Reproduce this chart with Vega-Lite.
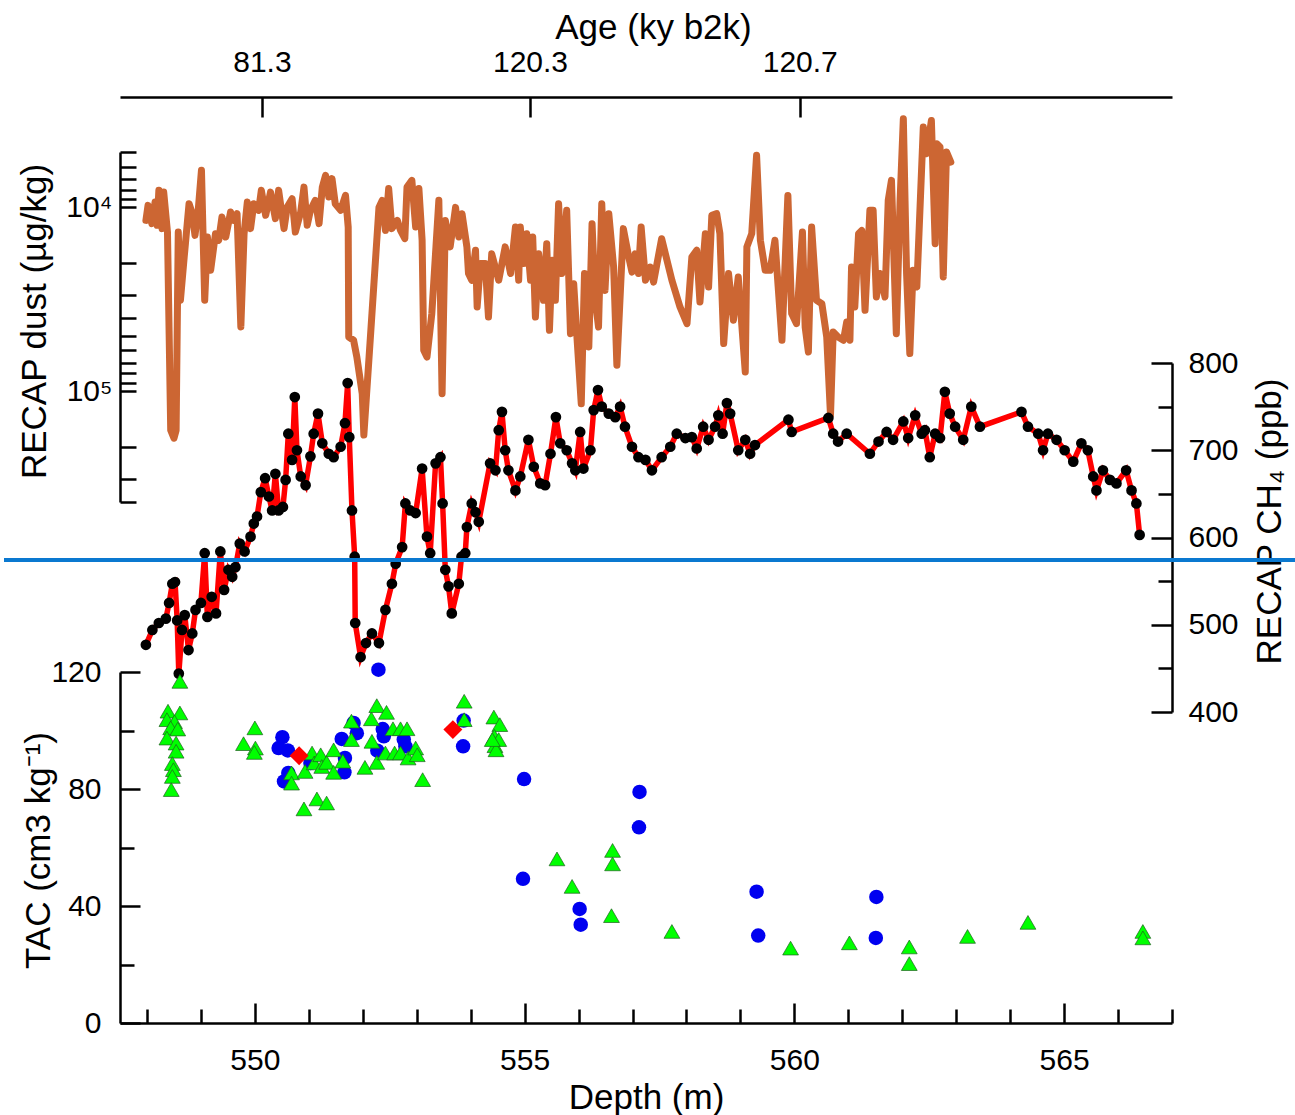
{
  "$schema": "https://vega.github.io/schema/vega-lite/v6.json",
  "width": 1052,
  "height": 926,
  "autosize": {"type": "none"},
  "padding": {"left": 120, "top": 97, "right": 123, "bottom": 92},
  "background": "white",
  "config": {
    "view": {"stroke": null},
    "axis": {
      "grid": false,
      "domainColor": "#000000",
      "domainWidth": 2.5,
      "tickColor": "#000000",
      "tickWidth": 2.5,
      "labelFont": "Liberation Sans",
      "labelFontSize": 30,
      "labelColor": "#000000",
      "titleFont": "Liberation Sans",
      "titleFontSize": 35,
      "titleFontWeight": "normal",
      "titleColor": "#000000",
      "labelFlush": false,
      "labelOverlap": false
    }
  },
  "datasets": {
    "dust": [
      {"d":547.98,"dust":11770},{"d":548.02,"dust":9750},{"d":548.09,"dust":12260},{"d":548.15,"dust":9360},{"d":548.19,"dust":12520},
      {"d":548.22,"dust":8080},{"d":548.28,"dust":13050},{"d":548.31,"dust":8260},{"d":548.38,"dust":13620},{"d":548.44,"dust":163000},
      {"d":548.50,"dust":180000},{"d":548.54,"dust":163000},{"d":548.58,"dust":13620},{"d":548.62,"dust":32000},{"d":548.69,"dust":18620},
      {"d":548.78,"dust":9550},{"d":548.84,"dust":10820},{"d":548.89,"dust":14200},{"d":548.95,"dust":10380},{"d":549.01,"dust":6290},
      {"d":549.07,"dust":32000},{"d":549.12,"dust":14490},{"d":549.18,"dust":22000},{"d":549.27,"dust":13900},{"d":549.33,"dust":15100},
      {"d":549.39,"dust":11290},{"d":549.46,"dust":14490},{"d":549.55,"dust":10600},{"d":549.61,"dust":11770},{"d":549.67,"dust":10820},
      {"d":549.74,"dust":44700},{"d":549.80,"dust":13900},{"d":549.86,"dust":9360},{"d":549.92,"dust":13050},{"d":549.98,"dust":9550},
      {"d":550.07,"dust":10380},{"d":550.12,"dust":8080},{"d":550.20,"dust":11050},{"d":550.29,"dust":8260},{"d":550.38,"dust":11520},
      {"d":550.44,"dust":8080},{"d":550.54,"dust":13050},{"d":550.60,"dust":9960},{"d":550.69,"dust":8970},{"d":550.75,"dust":13620},
      {"d":550.85,"dust":10600},{"d":550.91,"dust":7760},{"d":550.97,"dust":12520},{"d":551.03,"dust":10380},{"d":551.12,"dust":9160},
      {"d":551.19,"dust":12260},{"d":551.25,"dust":7760},{"d":551.31,"dust":6700},{"d":551.37,"dust":8790},{"d":551.43,"dust":6980},
      {"d":551.49,"dust":9550},{"d":551.59,"dust":10380},{"d":551.68,"dust":8610},{"d":551.73,"dust":12800},{"d":551.74,"dust":50700},
      {"d":551.83,"dust":52800},{"d":551.89,"dust":65100},{"d":551.99,"dust":103000},{"d":552.02,"dust":173000},{"d":552.15,"dust":46600},
      {"d":552.30,"dust":10000},{"d":552.36,"dust":9160},{"d":552.42,"dust":13340},{"d":552.48,"dust":7900},{"d":552.54,"dust":13050},
      {"d":552.64,"dust":11770},{"d":552.70,"dust":13340},{"d":552.78,"dust":14800},{"d":552.82,"dust":7760},{"d":552.91,"dust":7130},
      {"d":552.98,"dust":12800},{"d":553.04,"dust":7900},{"d":553.10,"dust":15100},{"d":553.13,"dust":59800},{"d":553.19,"dust":65100},
      {"d":553.28,"dust":37800},{"d":553.41,"dust":9160},{"d":553.47,"dust":103000},{"d":553.53,"dust":11770},{"d":553.62,"dust":16400},
      {"d":553.72,"dust":10000},{"d":553.78,"dust":14490},{"d":553.84,"dust":10820},{"d":553.93,"dust":16400},{"d":553.96,"dust":22900},
      {"d":554.02,"dust":24900},{"d":554.09,"dust":17100},{"d":554.12,"dust":34800},{"d":554.18,"dust":20200},{"d":554.27,"dust":20200},
      {"d":554.33,"dust":39500},{"d":554.39,"dust":17900},{"d":554.52,"dust":24900},{"d":554.64,"dust":16400},{"d":554.74,"dust":22900},
      {"d":554.83,"dust":12800},{"d":554.89,"dust":24900},{"d":554.92,"dust":12800},{"d":554.98,"dust":20200},{"d":555.04,"dust":13900},
      {"d":555.11,"dust":24900},{"d":555.15,"dust":14490},{"d":555.20,"dust":39500},{"d":555.26,"dust":17900},{"d":555.35,"dust":32000},
      {"d":555.41,"dust":15750},{"d":555.46,"dust":46600},{"d":555.51,"dust":19400},{"d":555.57,"dust":32000},{"d":555.63,"dust":9550},
      {"d":555.69,"dust":22900},{"d":555.78,"dust":10380},{"d":555.85,"dust":48600},{"d":555.91,"dust":26000},{"d":555.97,"dust":50700},
      {"d":556.05,"dust":117000},{"d":556.11,"dust":22900},{"d":556.19,"dust":57400},{"d":556.25,"dust":12260},{"d":556.31,"dust":32000},
      {"d":556.37,"dust":44700},{"d":556.43,"dust":9550},{"d":556.49,"dust":28300},{"d":556.56,"dust":10820},{"d":556.65,"dust":21100},
      {"d":556.71,"dust":72200},{"d":556.83,"dust":13050},{"d":556.93,"dust":18620},{"d":556.99,"dust":22500},{"d":557.05,"dust":17900},
      {"d":557.11,"dust":22900},{"d":557.16,"dust":12800},{"d":557.24,"dust":24900},{"d":557.33,"dust":21100},{"d":557.39,"dust":25500},
      {"d":557.54,"dust":14800},{"d":557.73,"dust":24900},{"d":557.88,"dust":34800},{"d":558.01,"dust":42900},{"d":558.10,"dust":18620},
      {"d":558.19,"dust":17100},{"d":558.25,"dust":32700},{"d":558.35,"dust":13900},{"d":558.41,"dust":27100},{"d":558.47,"dust":11050},
      {"d":558.56,"dust":10820},{"d":558.62,"dust":13900},{"d":558.69,"dust":55000},{"d":558.78,"dust":22900},{"d":558.87,"dust":41100},
      {"d":558.96,"dust":23900},{"d":559.09,"dust":78500},{"d":559.12,"dust":16400},{"d":559.21,"dust":13900},{"d":559.30,"dust":5210},
      {"d":559.37,"dust":15100},{"d":559.46,"dust":22000},{"d":559.55,"dust":22000},{"d":559.64,"dust":15100},{"d":559.70,"dust":27100},
      {"d":559.77,"dust":52800},{"d":559.88,"dust":8610},{"d":559.95,"dust":37800},{"d":560.04,"dust":42900},{"d":560.15,"dust":13620},
      {"d":560.20,"dust":44700},{"d":560.26,"dust":61100},{"d":560.32,"dust":12800},{"d":560.41,"dust":32000},{"d":560.51,"dust":33400},
      {"d":560.60,"dust":50700},{"d":560.67,"dust":135000},{"d":560.72,"dust":47600},{"d":560.81,"dust":50700},{"d":560.91,"dust":52800},
      {"d":560.97,"dust":42000},{"d":561.03,"dust":52800},{"d":561.06,"dust":21100},{"d":561.12,"dust":34800},{"d":561.19,"dust":13900},
      {"d":561.25,"dust":13340},{"d":561.31,"dust":36300},{"d":561.40,"dust":10380},{"d":561.46,"dust":10380},{"d":561.52,"dust":30700},
      {"d":561.59,"dust":22900},{"d":561.68,"dust":30700},{"d":561.74,"dust":9160},{"d":561.80,"dust":7130},{"d":561.89,"dust":48600},
      {"d":561.96,"dust":9160},{"d":562.02,"dust":3300},{"d":562.08,"dust":22900},{"d":562.14,"dust":62400},{"d":562.20,"dust":22000},
      {"d":562.27,"dust":27100},{"d":562.39,"dust":3660},{"d":562.45,"dust":5110},{"d":562.54,"dust":3370},{"d":562.61,"dust":15750},
      {"d":562.64,"dust":4510},{"d":562.70,"dust":4700},{"d":562.76,"dust":23900},{"d":562.82,"dust":5000},{"d":562.90,"dust":5670}
    ],
    "ch4": [
      {"d":547.98,"ch4":477},{"d":548.10,"ch4":494},{"d":548.22,"ch4":502},{"d":548.35,"ch4":507},{"d":548.41,"ch4":525},
      {"d":548.47,"ch4":547},{"d":548.52,"ch4":549},{"d":548.56,"ch4":505},{"d":548.59,"ch4":444},{"d":548.65,"ch4":494},
      {"d":548.70,"ch4":511},{"d":548.77,"ch4":471},{"d":548.84,"ch4":490},{"d":548.90,"ch4":517},{"d":549.00,"ch4":525},
      {"d":549.07,"ch4":582},{"d":549.12,"ch4":509},{"d":549.20,"ch4":532},{"d":549.28,"ch4":513},{"d":549.36,"ch4":584},
      {"d":549.43,"ch4":540},{"d":549.51,"ch4":563},{"d":549.58,"ch4":555},{"d":549.64,"ch4":566},{"d":549.72,"ch4":593},
      {"d":549.81,"ch4":584},{"d":549.92,"ch4":601},{"d":549.98,"ch4":616},{"d":550.04,"ch4":624},{"d":550.11,"ch4":652},
      {"d":550.19,"ch4":668},{"d":550.26,"ch4":647},{"d":550.32,"ch4":631},{"d":550.38,"ch4":673},{"d":550.44,"ch4":631},
      {"d":550.52,"ch4":635},{"d":550.57,"ch4":666},{"d":550.62,"ch4":719},{"d":550.69,"ch4":689},{"d":550.74,"ch4":761},
      {"d":550.78,"ch4":700},{"d":550.85,"ch4":670},{"d":550.94,"ch4":660},{"d":551.03,"ch4":693},{"d":551.09,"ch4":719},
      {"d":551.17,"ch4":742},{"d":551.25,"ch4":708},{"d":551.37,"ch4":696},{"d":551.46,"ch4":692},{"d":551.59,"ch4":704},
      {"d":551.67,"ch4":731},{"d":551.72,"ch4":777},{"d":551.75,"ch4":715},{"d":551.80,"ch4":631},{"d":551.85,"ch4":578},
      {"d":551.86,"ch4":502},{"d":551.96,"ch4":463},{"d":552.06,"ch4":479},{"d":552.17,"ch4":490},{"d":552.30,"ch4":479},
      {"d":552.42,"ch4":517},{"d":552.54,"ch4":547},{"d":552.61,"ch4":570},{"d":552.73,"ch4":589},{"d":552.79,"ch4":639},
      {"d":552.88,"ch4":631},{"d":552.98,"ch4":628},{"d":553.10,"ch4":679},{"d":553.19,"ch4":601},{"d":553.25,"ch4":582},
      {"d":553.35,"ch4":685},{"d":553.44,"ch4":692},{"d":553.48,"ch4":639},{"d":553.53,"ch4":563},{"d":553.59,"ch4":544},
      {"d":553.65,"ch4":513},{"d":553.78,"ch4":547},{"d":553.83,"ch4":578},{"d":553.90,"ch4":582},{"d":553.93,"ch4":612},
      {"d":554.02,"ch4":639},{"d":554.09,"ch4":629},{"d":554.15,"ch4":618},{"d":554.36,"ch4":685},{"d":554.46,"ch4":677},
      {"d":554.52,"ch4":723},{"d":554.58,"ch4":744},{"d":554.64,"ch4":700},{"d":554.70,"ch4":677},{"d":554.83,"ch4":654},
      {"d":554.92,"ch4":670},{"d":555.07,"ch4":712},{"d":555.17,"ch4":681},{"d":555.29,"ch4":662},{"d":555.38,"ch4":660},
      {"d":555.48,"ch4":696},{"d":555.58,"ch4":738},{"d":555.66,"ch4":708},{"d":555.78,"ch4":700},{"d":555.88,"ch4":685},
      {"d":555.94,"ch4":677},{"d":556.03,"ch4":721},{"d":556.09,"ch4":679},{"d":556.22,"ch4":700},{"d":556.28,"ch4":746},
      {"d":556.36,"ch4":769},{"d":556.43,"ch4":750},{"d":556.56,"ch4":742},{"d":556.68,"ch4":738},{"d":556.77,"ch4":750},
      {"d":556.86,"ch4":727},{"d":556.99,"ch4":704},{"d":557.11,"ch4":692},{"d":557.24,"ch4":689},{"d":557.36,"ch4":677},
      {"d":557.54,"ch4":692},{"d":557.70,"ch4":704},{"d":557.82,"ch4":719},{"d":557.98,"ch4":714},{"d":558.10,"ch4":715},
      {"d":558.19,"ch4":702},{"d":558.31,"ch4":727},{"d":558.41,"ch4":712},{"d":558.53,"ch4":727},{"d":558.59,"ch4":740},
      {"d":558.67,"ch4":719},{"d":558.75,"ch4":754},{"d":558.81,"ch4":742},{"d":558.96,"ch4":700},{"d":559.09,"ch4":712},
      {"d":559.18,"ch4":696},{"d":559.27,"ch4":706},{"d":559.89,"ch4":735},{"d":559.95,"ch4":721},{"d":560.63,"ch4":737},
      {"d":560.72,"ch4":719},{"d":560.81,"ch4":710},{"d":560.97,"ch4":719},{"d":561.40,"ch4":696},{"d":561.56,"ch4":710},
      {"d":561.71,"ch4":721},{"d":561.83,"ch4":712},{"d":562.02,"ch4":733},{"d":562.11,"ch4":714},{"d":562.24,"ch4":740},
      {"d":562.36,"ch4":719},{"d":562.42,"ch4":723},{"d":562.51,"ch4":692},{"d":562.61,"ch4":719},{"d":562.70,"ch4":714},
      {"d":562.79,"ch4":767},{"d":562.88,"ch4":742},{"d":562.98,"ch4":727},{"d":563.13,"ch4":712},{"d":563.28,"ch4":750},
      {"d":563.44,"ch4":727},{"d":564.21,"ch4":744},{"d":564.33,"ch4":727},{"d":564.52,"ch4":719},{"d":564.61,"ch4":700},
      {"d":564.70,"ch4":719},{"d":564.86,"ch4":712},{"d":565.01,"ch4":700},{"d":565.17,"ch4":687},{"d":565.32,"ch4":708},
      {"d":565.44,"ch4":700},{"d":565.54,"ch4":670},{"d":565.60,"ch4":654},{"d":565.72,"ch4":677},{"d":565.85,"ch4":666},
      {"d":565.97,"ch4":662},{"d":566.15,"ch4":677},{"d":566.25,"ch4":654},{"d":566.34,"ch4":639},{"d":566.40,"ch4":603}
    ],
    "tac": [
      {"d":550.51,"tac":97.7,"set":"A"},{"d":550.44,"tac":94.0,"set":"A"},{"d":550.61,"tac":93.2,"set":"A"},{"d":550.62,"tac":85.5,"set":"A"},
      {"d":550.54,"tac":82.6,"set":"A"},{"d":551.03,"tac":88.9,"set":"A"},{"d":551.61,"tac":97.1,"set":"A"},{"d":551.67,"tac":90.6,"set":"A"},
      {"d":551.66,"tac":85.7,"set":"A"},{"d":551.83,"tac":102.6,"set":"A"},{"d":551.89,"tac":99.1,"set":"A"},{"d":552.29,"tac":120.8,"set":"A"},
      {"d":552.37,"tac":100.5,"set":"A"},{"d":552.39,"tac":98.0,"set":"A"},{"d":552.27,"tac":93.1,"set":"A"},{"d":552.76,"tac":96.9,"set":"A"},
      {"d":552.79,"tac":94.6,"set":"A"},{"d":553.87,"tac":103.4,"set":"A"},{"d":553.86,"tac":94.6,"set":"A"},{"d":554.99,"tac":83.4,"set":"A"},
      {"d":554.97,"tac":49.3,"set":"A"},{"d":556.02,"tac":39.0,"set":"A"},{"d":556.04,"tac":33.6,"set":"A"},{"d":557.13,"tac":79.0,"set":"A"},
      {"d":557.12,"tac":66.9,"set":"A"},{"d":559.30,"tac":44.9,"set":"A"},{"d":559.33,"tac":29.9,"set":"A"},{"d":561.52,"tac":43.1,"set":"A"},
      {"d":561.51,"tac":29.1,"set":"A"},
      {"d":548.61,"tac":116.8,"set":"B"},{"d":548.39,"tac":106.6,"set":"B"},{"d":548.61,"tac":106.0,"set":"B"},{"d":548.37,"tac":103.7,"set":"B"},
      {"d":548.51,"tac":103.0,"set":"B"},{"d":548.44,"tac":100.9,"set":"B"},{"d":548.57,"tac":100.5,"set":"B"},{"d":548.37,"tac":97.4,"set":"B"},
      {"d":548.54,"tac":95.7,"set":"B"},{"d":548.54,"tac":92.9,"set":"B"},{"d":548.47,"tac":88.7,"set":"B"},{"d":548.49,"tac":86.6,"set":"B"},
      {"d":548.47,"tac":84.3,"set":"B"},{"d":548.45,"tac":79.8,"set":"B"},{"d":550.00,"tac":100.9,"set":"B"},{"d":549.79,"tac":95.5,"set":"B"},
      {"d":550.01,"tac":94.0,"set":"B"},{"d":549.99,"tac":92.5,"set":"B"},{"d":550.68,"tac":85.5,"set":"B"},{"d":550.68,"tac":82.0,"set":"B"},
      {"d":550.93,"tac":86.0,"set":"B"},{"d":550.91,"tac":73.2,"set":"B"},{"d":551.06,"tac":92.3,"set":"B"},{"d":551.10,"tac":88.9,"set":"B"},
      {"d":551.15,"tac":76.6,"set":"B"},{"d":551.22,"tac":91.7,"set":"B"},{"d":551.24,"tac":87.7,"set":"B"},{"d":551.33,"tac":89.1,"set":"B"},
      {"d":551.33,"tac":75.2,"set":"B"},{"d":551.46,"tac":93.4,"set":"B"},{"d":551.46,"tac":85.7,"set":"B"},{"d":551.63,"tac":89.5,"set":"B"},
      {"d":551.79,"tac":103.2,"set":"B"},{"d":551.79,"tac":96.9,"set":"B"},{"d":552.04,"tac":87.4,"set":"B"},{"d":552.16,"tac":104.0,"set":"B"},
      {"d":552.17,"tac":96.3,"set":"B"},{"d":552.26,"tac":108.5,"set":"B"},{"d":552.26,"tac":89.1,"set":"B"},{"d":552.44,"tac":106.2,"set":"B"},
      {"d":552.42,"tac":92.3,"set":"B"},{"d":552.56,"tac":100.6,"set":"B"},{"d":552.59,"tac":92.3,"set":"B"},{"d":552.70,"tac":100.6,"set":"B"},
      {"d":552.70,"tac":92.3,"set":"B"},{"d":552.82,"tac":100.6,"set":"B"},{"d":552.84,"tac":90.6,"set":"B"},{"d":552.98,"tac":94.0,"set":"B"},
      {"d":553.01,"tac":91.7,"set":"B"},{"d":553.11,"tac":83.2,"set":"B"},{"d":553.88,"tac":110.0,"set":"B"},{"d":553.88,"tac":103.7,"set":"B"},
      {"d":554.43,"tac":104.6,"set":"B"},{"d":554.54,"tac":102.0,"set":"B"},{"d":554.44,"tac":98.0,"set":"B"},{"d":554.52,"tac":96.9,"set":"B"},
      {"d":554.45,"tac":94.8,"set":"B"},{"d":554.47,"tac":93.4,"set":"B"},{"d":554.40,"tac":96.9,"set":"B"},{"d":555.60,"tac":56.1,"set":"B"},
      {"d":555.88,"tac":46.7,"set":"B"},{"d":556.63,"tac":59.0,"set":"B"},{"d":556.63,"tac":54.4,"set":"B"},{"d":556.61,"tac":36.7,"set":"B"},
      {"d":557.73,"tac":31.3,"set":"B"},{"d":559.93,"tac":25.6,"set":"B"},{"d":561.02,"tac":27.4,"set":"B"},{"d":562.13,"tac":26.0,"set":"B"},
      {"d":562.13,"tac":20.3,"set":"B"},{"d":563.21,"tac":29.6,"set":"B"},{"d":564.33,"tac":34.4,"set":"B"},{"d":566.46,"tac":31.3,"set":"B"},
      {"d":566.46,"tac":29.1,"set":"B"},
      {"d":550.82,"tac":91.4,"set":"C"},{"d":553.67,"tac":100.3,"set":"C"}
    ]
  },
  "layer": [
    {
      "data": {"name": "dust"},
      "mark": {"type": "line", "color": "#CC6633", "strokeWidth": 7, "strokeJoin": "round", "strokeCap": "round"},
      "encoding": {
        "x": {
          "field": "d", "type": "quantitative",
          "scale": {"domain": [547.5, 567], "nice": false, "zero": false},
          "axis": {
            "orient": "top",
            "values": [550.13, 555.1, 560.1],
            "labelExpr": "datum.value < 552 ? '81.3' : (datum.value < 557 ? '120.3' : '120.7')",
            "tickSize": -20,
            "labelPadding": 40,
            "title": "Age (ky b2k)",
            "titleX": 533,
            "titleY": -70,
            "titleAlign": "center",
            "titleBaseline": "middle"
          }
        },
        "y": {
          "field": "dust", "type": "quantitative",
          "scale": {"type": "log", "domain": [5000, 400000], "range": [55, 405], "nice": false, "zero": false},
          "axis": {
            "orient": "left",
            "values": [5000, 6000, 7000, 8000, 9000, 10000, 20000, 30000, 40000, 50000, 60000, 70000, 80000, 90000, 100000, 200000, 300000, 400000],
            "labelExpr": "datum.value == 10000 ? '10⁴' : (datum.value == 100000 ? '10⁵' : '')",
            "tickSize": -16,
            "labelPadding": 24,
            "title": "RECAP dust (µg/kg)",
            "titleX": -86,
            "titleY": 224,
            "titleAngle": 270,
            "titleAlign": "center",
            "titleBaseline": "middle"
          }
        }
      }
    },
    {
      "data": {"name": "ch4"},
      "resolve": {"axis": {"x": "independent", "y": "independent"}},
      "layer": [
        {
          "mark": {"type": "line", "color": "#FF0000", "strokeWidth": 5.5},
          "encoding": {
            "x": {"field": "d", "type": "quantitative", "scale": {"domain": [547.5, 567], "nice": false, "zero": false}, "axis": null},
            "y": {
              "field": "ch4", "type": "quantitative",
              "scale": {"domain": [400, 800], "range": [615, 266], "nice": false, "zero": false},
              "axis": {
                "orient": "right",
                "values": [400, 500, 600, 700, 800],
                "tickSize": -21,
                "labelPadding": 37,
                "title": "RECAP CH₄ (ppb)",
                "titleX": 97,
                "titleY": 424,
                "titleAngle": 270,
                "titleAlign": "center",
                "titleBaseline": "middle"
              }
            }
          }
        },
        {
          "mark": {"type": "point", "filled": true, "color": "#000000", "size": 115, "opacity": 1},
          "encoding": {
            "x": {"field": "d", "type": "quantitative", "axis": null},
            "y": {
              "field": "ch4", "type": "quantitative",
              "axis": {"orient": "right", "values": [450, 550, 650, 750], "tickSize": -14, "labels": false, "domain": false, "title": null}
            }
          }
        },
        {
          "mark": {"type": "rule", "color": "#0A79D0", "strokeWidth": 3.5},
          "encoding": {
            "x": {"datum": 545.35, "type": "quantitative", "axis": null},
            "x2": {"datum": 569.4},
            "y": {"datum": 574, "type": "quantitative", "axis": null}
          }
        }
      ]
    },
    {
      "data": {"name": "tac"},
      "resolve": {"axis": {"x": "independent", "y": "independent"}},
      "layer": [
        {
          "transform": [{"filter": "datum.set === 'A'"}],
          "mark": {"type": "point", "shape": "circle", "filled": true, "color": "#0000F0", "size": 210, "opacity": 1},
          "encoding": {
            "x": {
              "field": "d", "type": "quantitative",
              "scale": {"domain": [547.5, 567], "nice": false, "zero": false},
              "axis": {
                "orient": "bottom",
                "values": [550, 555, 560, 565],
                "tickSize": -20,
                "labelPadding": 42,
                "title": "Depth (m)",
                "titleX": 526,
                "titleY": 74,
                "titleAlign": "center",
                "titleBaseline": "middle"
              }
            },
            "y": {
              "field": "tac", "type": "quantitative",
              "scale": {"domain": [0, 120], "range": [926, 575], "nice": false, "zero": false},
              "axis": {
                "orient": "left",
                "values": [0, 40, 80, 120],
                "tickSize": -20,
                "labelPadding": 39,
                "title": "TAC (cm3 kg⁻¹)",
                "titleX": -82,
                "titleY": 753,
                "titleAngle": 270,
                "titleAlign": "center",
                "titleBaseline": "middle"
              }
            }
          }
        },
        {
          "transform": [{"filter": "datum.set === 'B'"}],
          "mark": {"type": "point", "shape": "triangle-up", "filled": true, "fill": "#00FF00", "stroke": "#1F5F1F", "strokeWidth": 0.7, "size": 250, "opacity": 1},
          "encoding": {
            "x": {
              "field": "d", "type": "quantitative",
              "axis": {"orient": "bottom", "values": [548, 549, 551, 552, 553, 554, 556, 557, 558, 559, 561, 562, 563, 564, 566, 567], "tickSize": -14, "labels": false, "domain": false, "title": null}
            },
            "y": {
              "field": "tac", "type": "quantitative",
              "axis": {"orient": "left", "values": [20, 60, 100], "tickSize": -14, "labels": false, "domain": false, "title": null}
            }
          }
        },
        {
          "transform": [{"filter": "datum.set === 'C'"}],
          "mark": {"type": "point", "shape": "diamond", "filled": true, "color": "#FF0000", "size": 360, "opacity": 1},
          "encoding": {
            "x": {"field": "d", "type": "quantitative", "axis": null},
            "y": {"field": "tac", "type": "quantitative", "axis": null}
          }
        }
      ]
    }
  ],
  "resolve": {"scale": {"y": "independent"}, "axis": {"x": "independent", "y": "independent"}}
}
